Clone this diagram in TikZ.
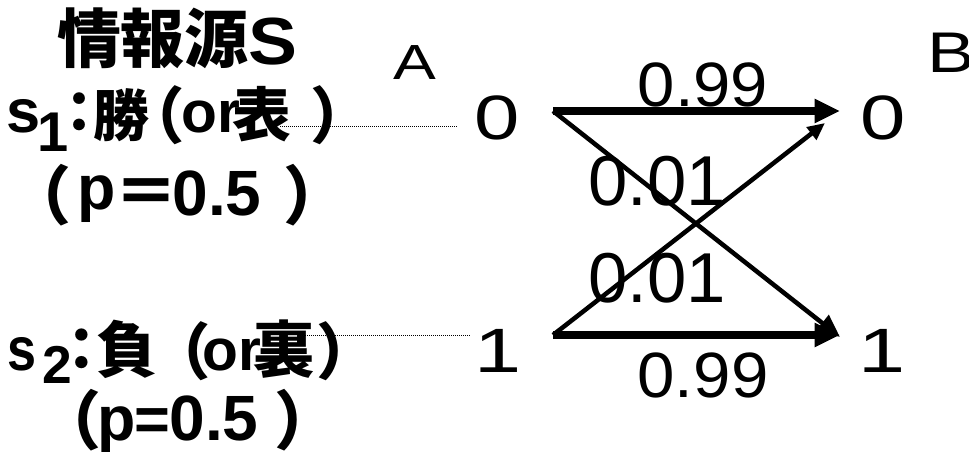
\documentclass[tikz,border=0pt]{standalone}
\usepackage{fontspec}
\setmainfont{Liberation Sans}
\newfontfamily\jpfont[RawFeature=+palt]{Noto Sans CJK JP}
\usetikzlibrary{arrows.meta}
\newcommand\JP[1]{{\jpfont\bfseries #1}}
\newcommand\fs[1]{\fontsize{#1}{#1}\selectfont}
% place a piece centred at x (in px) on the line
\newcommand\cat[2]{\rlap{\kern\dimexpr 0.75pt*#1\relax\makebox[0pt][c]{#2}}}
\newcommand\lend[1]{\kern\dimexpr 0.75pt*#1\relax}
\tikzset{
  txt/.style={inner sep=0pt, outer sep=0pt, anchor=base},
  ltxt/.style={inner sep=0pt, outer sep=0pt, anchor=base west},
  thickarrow/.style={line width=5.3pt, -{Triangle[length=19pt,width=17pt]}},
  diagbig/.style={line width=3.4pt, -{Triangle[length=17pt,width=15pt]}},
  diagsmall/.style={line width=3.4pt, -{Triangle[length=13pt,width=11.5pt]}},
  dotline/.style={line width=0.75pt, dash pattern=on 0.75pt off 0.75pt}
}
\begin{document}
\begin{tikzpicture}[x=0.75pt,y=-0.75pt]
\useasboundingbox (0,0) rectangle (969,452);
% left texts
\node[ltxt] (t0) at (0,65) {\bfseries%
  \cat{89}{\raisebox{2pt}{\fs{48}\JP{情}}}%
  \cat{152}{\raisebox{2pt}{\fs{48}\JP{報}}}%
  \cat{216}{\raisebox{2pt}{\fs{48}\JP{源}}}%
  \cat{273}{\fs{50}\scalebox{1.1}[1]{S}}\lend{296}};
\node[ltxt] (s1) at (0,133) {\bfseries%
  \cat{24}{\fs{46}s}%
  \cat{53}{\raisebox{-14pt}{\fs{42}1}}%
  \cat{79}{\fs{42}\JP{：}}%
  \cat{121}{\raisebox{-3pt}{\fs{42}\JP{勝}}}%
  \cat{167}{\raisebox{-4pt}{\fs{46}\JP{（}}}%
  \cat{211}{\fs{44}or}%
  \cat{262}{\raisebox{-3pt}{\fs{44}\JP{表}}}%
  \cat{329}{\raisebox{-4pt}{\fs{46}\JP{）}}}\lend{340}};
\node[ltxt] (p1) at (0,215) {\bfseries%
  \cat{53}{\raisebox{-3pt}{\fs{48}\JP{（}}}%
  \cat{97}{\raisebox{4pt}{\fs{47}p}}%
  \cat{146}{\fs{48}\JP{＝}}%
  \cat{217}{\fs{48}0.5}%
  \cat{302}{\raisebox{-3pt}{\fs{48}\JP{）}}}\lend{313}};
\node[ltxt] (s2) at (0,370) {\bfseries%
  \cat{22}{\fs{46}\scalebox{0.85}[1]{s}}%
  \cat{57}{\raisebox{-10pt}{\fs{40}2}}%
  \cat{82}{\fs{44}\JP{：}}%
  \cat{127}{\raisebox{-2pt}{\fs{46}\JP{負}}}%
  \cat{193}{\raisebox{-3pt}{\fs{46}\JP{（}}}%
  \cat{232}{\fs{44}or}%
  \cat{284}{\raisebox{-2pt}{\fs{46}\JP{裏}}}%
  \cat{335}{\raisebox{-3pt}{\fs{46}\JP{）}}}\lend{343}};
\node[ltxt] (p2) at (0,440) {\bfseries%
  \cat{83}{\raisebox{-3pt}{\fs{48}\JP{（}}}%
  \cat{117}{\fs{47}p}%
  \cat{152}{\fs{46}=}%
  \cat{214}{\fs{48}0.5}%
  \cat{293}{\raisebox{-3pt}{\fs{48}\JP{）}}}\lend{303}};
% column heads
\node[txt] (hA) at (415,80) {\fs{37}\scalebox{1.3}[1]{A}};
\node[txt] (hB) at (951,73) {\fs{43}\scalebox{1.25}[1]{B}};
% symbols
\node[txt] (a0) at (497,140) {\fs{47}\scalebox{1.3}[1]{0}};
\node[txt] (a1) at (498,372) {\fs{47}\scalebox{1.35}[1]{1}};
\node[txt] (b0) at (883,140) {\fs{47}\scalebox{1.3}[1]{0}};
\node[txt] (b1) at (882,372) {\fs{47}\scalebox{1.35}[1]{1}};
% arrow coordinates
\coordinate (c00) at (553,111);
\coordinate (c10) at (553,335);
\coordinate (e0h) at (840,111);
\coordinate (e1h) at (840,335);
\coordinate (e0d) at (825,123);
\coordinate (e1d) at (840,337);
\draw[thickarrow] (c00) -- (e0h);
\draw[thickarrow] (c10) -- (e1h);
\draw[diagbig] (c00) -- (e1d);
\draw[diagsmall] (c10) -- (e0d);
% dotted
\coordinate (d1s) at (280,127);
\coordinate (d1e) at (457,127);
\coordinate (d2s) at (305,335);
\coordinate (d2e) at (470,335);
\draw[dotline] (d1s) -- (d1e);
\draw[dotline] (d2s) -- (d2e);
% probabilities
\node[txt] (w00) at (703,107) {\fs{47}\scalebox{1.07}[1]{0.99}};
\node[txt] (w01) at (657,205) {\fs{53}0.01};
\node[txt] (w10) at (657,302) {\fs{53}0.01};
\node[txt] (w11) at (703,397) {\fs{48}\scalebox{1.05}[1]{0.99}};
\end{tikzpicture}
\end{document}
